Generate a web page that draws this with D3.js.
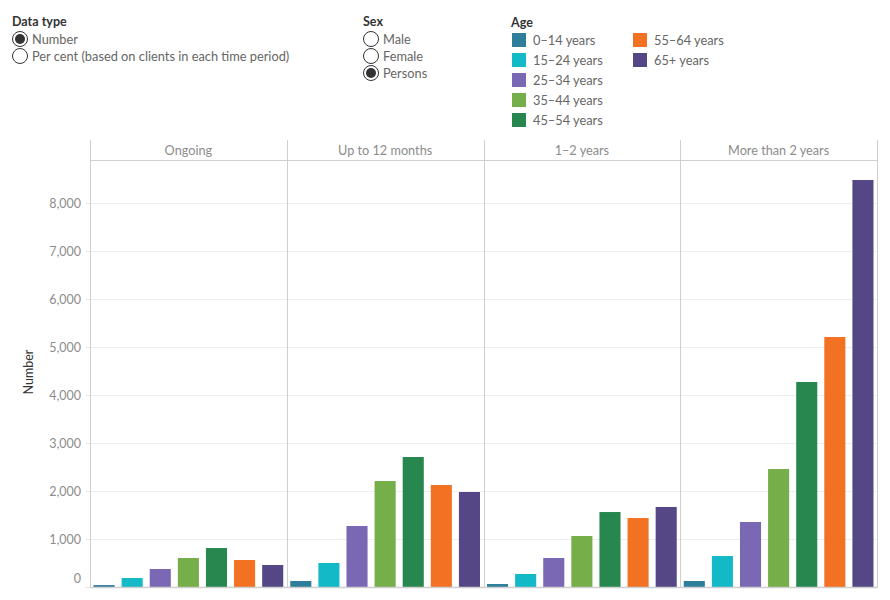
<!DOCTYPE html>
<html>
<head>
<meta charset="utf-8">
<script src="https://cdn.jsdelivr.net/npm/d3@7"></script>
<style>
  body { margin: 0; background: #fff; }
  svg { font-family: Lato, "Open Sans", sans-serif; }
</style>
</head>
<body>
<script>
const w = 890;
const h = 600;

// data
const periods = ["Ongoing", "Up to 12 months", "1–2 years", "More than 2 years"];
const ages = ["0–14 years", "15–24 years", "25–34 years", "35–44 years", "45–54 years", "55–64 years", "65+ years"];
const ageColors = ["#2e7d9a", "#14b9c7", "#7b68b5", "#76ae49", "#27874f", "#f37123", "#554786"];
const ongoing = [40, 187, 375, 604, 812, 562, 458];
const upTo12Months = [125, 500, 1271, 2208, 2708, 2125, 1979];
const oneToTwoYears = [62, 271, 604, 1062, 1562, 1437, 1667];
const moreThan2Years = [125, 646, 1354, 2458, 4271, 5208, 8479];
const yTicks = [0, 1000, 2000, 3000, 4000, 5000, 6000, 7000, 8000];
const dataTypes = ["Number", "Per cent (based on clients in each time period)"];
const sexes = ["Male", "Female", "Persons"];

const series = [ongoing, upTo12Months, oneToTwoYears, moreThan2Years];

const svg = d3.select("body").append("svg").attr("width", w).attr("height", h);

const plotLeft = 90, plotRight = 877, plotTop = 140, headerH = 20, plotBottom = 587;

const xPanel = d3.scaleBand().domain(periods).range([plotLeft, plotRight]);
const xBar = d3.scaleBand().domain(ages).range([0, xPanel.bandwidth()])
  .paddingInner(0.25).paddingOuter(0.125);
const y = d3.scaleLinear().domain([0, 8896]).range([plotBottom, plotTop + headerH]);
const color = d3.scaleOrdinal().domain(ages).range(ageColors);

// gridlines
svg.append("g")
  .selectAll("line")
  .data(yTicks.filter(d => d > 0))
  .enter()
  .append("line")
  .attr("x1", plotLeft).attr("x2", plotRight)
  .attr("y1", d => Math.round(y(d)) + 0.5).attr("y2", d => Math.round(y(d)) + 0.5)
  .attr("stroke", "#efefef");

// bars
periods.forEach(function(p, i) {
  svg.append("g")
    .attr("transform", "translate(" + xPanel(p) + ",0)")
    .selectAll("rect")
    .data(series[i])
    .enter()
    .append("rect")
    .attr("x", (d, j) => xBar(ages[j]))
    .attr("width", xBar.bandwidth())
    .attr("y", d => y(d))
    .attr("height", d => plotBottom - y(d))
    .attr("fill", (d, j) => color(ages[j]));
});

// panel frame
svg.append("line")
  .attr("x1", plotLeft).attr("x2", plotRight)
  .attr("y1", plotTop + headerH + 0.5).attr("y2", plotTop + headerH + 0.5)
  .attr("stroke", "#cfcfcf");
svg.append("line")
  .attr("x1", plotLeft).attr("x2", plotRight)
  .attr("y1", plotBottom + 0.5).attr("y2", plotBottom + 0.5)
  .attr("stroke", "#cfcfcf").attr("stroke-width", 1.5);
svg.append("g")
  .selectAll("line")
  .data(periods.map(p => xPanel(p)).concat([plotRight]))
  .enter()
  .append("line")
  .attr("x1", d => Math.round(d) + 0.5).attr("x2", d => Math.round(d) + 0.5)
  .attr("y1", plotTop).attr("y2", plotBottom + 1)
  .attr("stroke", "#cfcfcf");

// panel headers
svg.append("g")
  .selectAll("text")
  .data(periods)
  .enter()
  .append("text")
  .attr("x", d => xPanel(d) + xPanel.bandwidth() / 2)
  .attr("y", plotTop + 15)
  .attr("text-anchor", "middle")
  .attr("fill", "#8c8c8c")
  .style("font-size", "12.7px")
  .text(d => d);

// y axis
const yAxis = svg.append("g")
  .attr("transform", "translate(" + plotLeft + ",0)")
  .call(d3.axisLeft(y).tickValues(yTicks).tickSize(4).tickPadding(5).tickFormat(d3.format(",")));
yAxis.select(".domain").remove();
yAxis.selectAll(".tick line").attr("stroke", "#e6e6e6");
yAxis.selectAll(".tick text")
  .attr("fill", "#8c8c8c")
  .style("font-size", "12.5px")
  .style("font-family", "Lato, sans-serif");
yAxis.selectAll(".tick").filter(d => d === 0).select("text").attr("dy", "-0.35em");

svg.append("text")
  .attr("transform", "translate(33,372) rotate(-90)")
  .attr("text-anchor", "middle")
  .attr("fill", "#333")
  .style("font-size", "12.5px")
  .text("Number");

// radio-button legends
function radioGroup(x, title, options, selected) {
  const g = svg.append("g").attr("transform", "translate(" + x + ",0)");
  g.append("text").attr("x", 0).attr("y", 26)
    .attr("fill", "#333").style("font-size", "12.5px").style("font-weight", "bold")
    .text(title);
  const item = g.selectAll(".opt").data(options).enter().append("g")
    .attr("transform", (d, i) => "translate(0," + (39 + i * 17) + ")");
  item.append("circle").attr("cx", 8).attr("cy", 0).attr("r", 7.5)
    .attr("fill", "#fff").attr("stroke", "#333").attr("stroke-width", 1);
  item.filter(d => d === selected).append("circle")
    .attr("cx", 8).attr("cy", 0).attr("r", 5).attr("fill", "#333");
  item.append("text").attr("x", 20).attr("y", 4.5)
    .attr("fill", "#666").style("font-size", "12.8px")
    .text(d => d);
}
radioGroup(12, "Data type", dataTypes, "Number");
radioGroup(363, "Sex", sexes, "Persons");

// age legend
const ageLegend = svg.append("g").attr("transform", "translate(511,0)");
ageLegend.append("text").attr("x", 0).attr("y", 27)
  .attr("fill", "#333").style("font-size", "12.5px").style("font-weight", "bold")
  .text("Age");
const ageItem = ageLegend.selectAll(".age").data(ages).enter().append("g")
  .attr("transform", (d, i) => "translate(" + (i < 5 ? 1 : 122) + "," + (40 + (i % 5) * 20) + ")");
ageItem.append("rect").attr("x", 0).attr("y", -7).attr("width", 14).attr("height", 14)
  .attr("fill", d => color(d));
ageItem.append("text").attr("x", 21).attr("y", 4.5)
  .attr("fill", "#666").style("font-size", "12.8px")
  .text(d => d);
</script>
</body>
</html>
